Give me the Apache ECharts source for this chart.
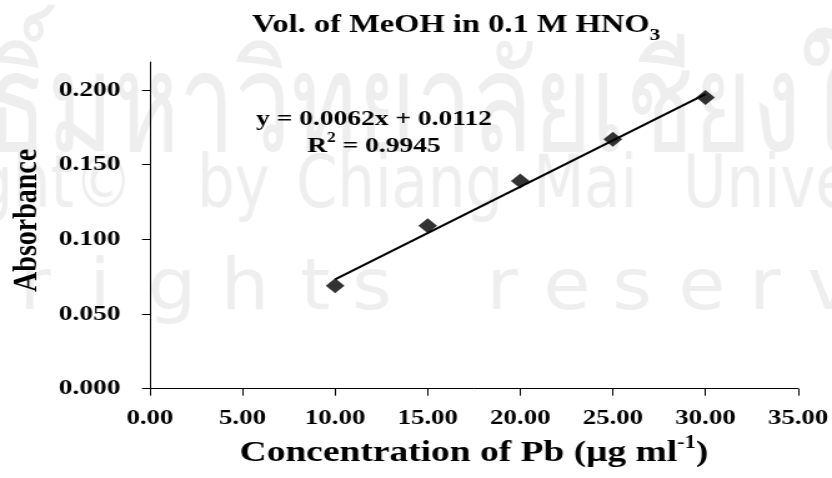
<!DOCTYPE html>
<html>
<head>
<meta charset="utf-8">
<script src="https://cdn.jsdelivr.net/npm/echarts@6/dist/echarts.min.js"></script>
<style>
  html, body { margin: 0; padding: 0; background: #fff; overflow: hidden; }
  #page { width: 832px; height: 478px; overflow: hidden; position: relative; }
  /* the figure is drawn narrow and widened to the page width */
  #chart { width: 666px; height: 478px; transform: scaleX(1.249249); transform-origin: 0 0; }
</style>
</head>
<body>
<div id="page"><div id="chart"></div></div>
<script>
// Calibration data: Pb concentration (µg/ml) vs absorbance
const concentration = [10, 15, 20, 25, 30];
const absorbance = [0.069, 0.109, 0.139, 0.167, 0.195];

// Linear fit reported on the chart
const slope = 0.0062;
const intercept = 0.0112;
const rSquared = '0.9945';

const yTicks = [0, 0.05, 0.1, 0.15, 0.2];

const SX = 832 / 666;          // horizontal widening of the figure
const px = x => x / SX;        // page x -> drawing x

const serif = '"Liberation Serif", "Times New Roman", serif';
const wmFont = '"DejaVu Sans", sans-serif';
const wmColor = '#eeeeee';

const fitLine = [concentration[0], concentration[concentration.length - 1]]
  .map(x => [x, slope * x + intercept]);

// Faint background watermark
const wmGraphics = [
  { type: 'text', x: px(-270), y: 44, scaleX: 0.58, silent: true, z: -10,
    style: { text: 'ลิขสิทธิ์มหาวิทยาลัยเชียงใหม่', font: '400 138px sans-serif', fill: wmColor } }
];
[['Copyright©', 133, 'right'], ['by', 197, 'left'], ['Chiang', 296, 'left'],
 ['Mai', 533, 'left'], ['University', 683, 'left']].forEach(([w, x, a]) => {
  wmGraphics.push({ type: 'text', x: px(x), y: 152, scaleX: 0.65, silent: true, z: -10,
    style: { text: w, font: '400 73px ' + wmFont, fill: wmColor, align: a } });
});
[['r', 35], ['i', 100], ['g', 172], ['h', 245], ['t', 315], ['s', 372],
 ['r', 502], ['e', 567], ['s', 632], ['e', 702], ['r', 765], ['v', 830]].forEach(([ch, x]) => {
  wmGraphics.push({ type: 'text', x: px(x), y: 254, scaleX: 0.85, silent: true, z: -10,
    style: { text: ch, font: '400 72px ' + wmFont, fill: wmColor, align: 'center' } });
});

const chart = echarts.init(document.getElementById('chart'));
chart.setOption({
  backgroundColor: 'transparent',
  animation: false,
  title: {
    text: 'Vol. of MeOH in 0.1 M HNO{sub|3}',
    left: px(456), top: 7, textAlign: 'center', padding: 0,
    textStyle: {
      fontFamily: serif, fontWeight: 'bold', fontSize: 26, lineHeight: 37, color: '#000',
      rich: { sub: { fontFamily: serif, fontWeight: 'bold', fontSize: 17, lineHeight: 17, verticalAlign: 'bottom', color: '#000' } }
    }
  },
  grid: { left: px(144), right: 666 - px(800), top: 62, bottom: 89.3, containLabel: false },
  xAxis: {
    type: 'value', min: 0, max: 35, interval: 5,
    name: 'Concentration of Pb (μg ml{sup|-1})',
    nameLocation: 'middle', nameGap: 31,
    nameTextStyle: {
      fontFamily: serif, fontWeight: 'bold', fontSize: 30, lineHeight: 37, color: '#000',
      rich: { sup: { fontFamily: serif, fontWeight: 'bold', fontSize: 18, lineHeight: 18, verticalAlign: 'top', color: '#000' } }
    },
    axisLine: { show: true, onZero: false, lineStyle: { color: '#000', width: 1 } },
    axisTick: { show: true, length: 7, lineStyle: { color: '#000' } },
    axisLabel: {
      margin: 19, fontFamily: serif, fontWeight: 'bold', fontSize: 21.5, color: '#000',
      formatter: v => v.toFixed(2)
    },
    splitLine: { show: false }
  },
  yAxis: {
    type: 'value', min: 0, max: 0.2187,
    name: 'Absorbance',
    nameLocation: 'middle', nameGap: 84, nameRotate: 90,
    nameTextStyle: { fontFamily: serif, fontWeight: 'bold', fontSize: 28, color: '#000', padding: [0, 0, 0, 10] },
    axisLine: { show: true, onZero: false, lineStyle: { color: '#000', width: 1 } },
    axisTick: { show: true, length: 6.4, customValues: yTicks, lineStyle: { color: '#000' } },
    axisLabel: {
      margin: 23.5, customValues: yTicks, fontFamily: serif, fontWeight: 'bold', fontSize: 22, color: '#000',
      formatter: v => v.toFixed(3)
    },
    splitLine: { show: false }
  },
  graphic: wmGraphics.concat([
    { type: 'text', x: px(374), y: 108.5, silent: true,
      style: { text: 'y = 0.0062x + 0.0112', font: 'bold 22px ' + serif, fill: '#000', align: 'center' } },
    { type: 'text', x: px(374), y: 131, silent: true,
      style: { text: 'R{sup|2} = ' + rSquared, fill: '#000', align: 'center',
        rich: {
          sup: { fontFamily: serif, fontWeight: 'bold', fontSize: 14, lineHeight: 14, verticalAlign: 'top' }
        },
        font: 'bold 22px ' + serif, lineHeight: 31 } }
  ]),
  series: [
    {
      type: 'line', data: fitLine, symbol: 'none', silent: true,
      lineStyle: { color: '#000', width: 2 }, z: 2
    },
    {
      type: 'scatter', data: concentration.map((x, i) => [x, absorbance[i]]),
      symbol: 'diamond', symbolSize: 15,
      itemStyle: { color: '#000' }, z: 3
    }
  ]
});
</script>
</body>
</html>
